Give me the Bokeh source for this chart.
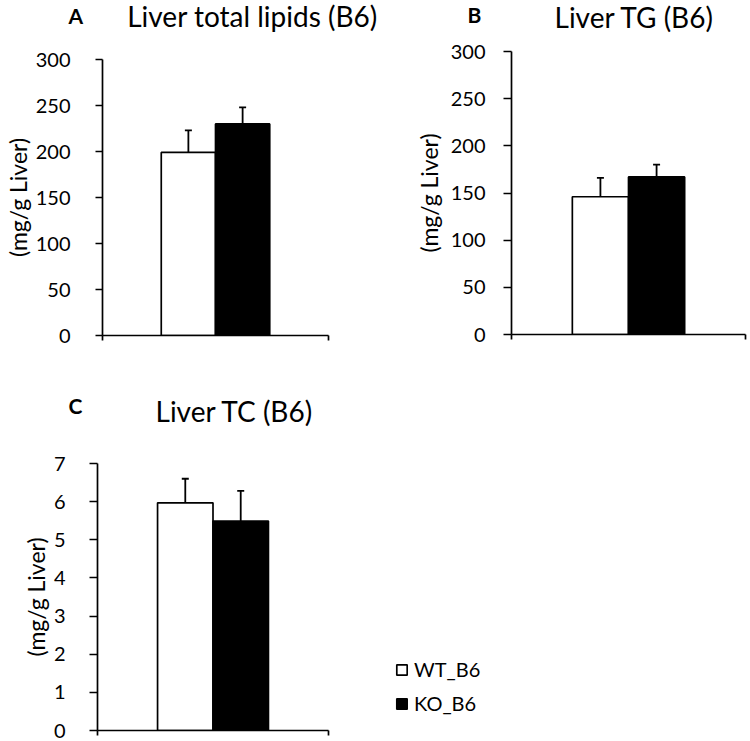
from bokeh.plotting import figure
from bokeh.models import (ColumnDataSource, Range1d, FixedTicker, Whisker, Label,
                          Legend, LegendItem, TeeHead)
from bokeh.layouts import column, row
from bokeh.embed import file_html
from bokeh.resources import INLINE

# ---------------- data ----------------
groups = ["WT_B6", "KO_B6"]
bar_fill = ["white", "black"]

lipids_mean = [199, 230]
lipids_err = [24, 18]

tg_mean = [146, 167]
tg_err = [20, 13]

tc_mean = [5.97, 5.49]
tc_err = [0.63, 0.79]

lipids_ticks = [0, 50, 100, 150, 200, 250, 300]
tg_ticks = [0, 50, 100, 150, 200, 250, 300]
tc_ticks = [0, 1, 2, 3, 4, 5, 6, 7]

y_label = "(mg/g Liver)"
FONT = "Lato"
BAR_W = 0.24


def make_header(W, H, letter, title, letter_xy, title_xy):
    h = figure(width=W, height=H, output_backend="svg", toolbar_location=None,
               x_range=Range1d(0, W), y_range=Range1d(H, 0),
               x_axis_location=None, y_axis_location=None,
               min_border=0, min_border_left=0, min_border_right=0,
               min_border_top=0, min_border_bottom=0)
    h.outline_line_color = None
    h.xgrid.visible = False
    h.ygrid.visible = False
    h.add_layout(Label(x=letter_xy[0], y=letter_xy[1], text=letter, text_font=FONT,
                       text_font_size="21px", text_font_style="bold", text_color="black",
                       text_baseline="alphabetic", text_align="left"))
    h.add_layout(Label(x=title_xy[0], y=title_xy[1], text=title, text_font=FONT,
                       text_font_size="28px", text_color="black",
                       text_baseline="alphabetic", text_align="left"))
    return h


def make_panel(means, errs, ticks, geo):
    W, H = geo["size"]
    fl, ft, fw, fh = geo["frame"]
    unit_w = geo["unit_w"]          # pixel width of the [0, 1] category span
    ymax = ticks[-1]
    p = figure(width=W, height=H, output_backend="svg", toolbar_location=None,
               x_range=Range1d(0, fw / unit_w), y_range=Range1d(0, ymax),
               min_border_left=fl, min_border_top=ft,
               min_border_right=W - fl - fw, min_border_bottom=H - ft - fh)
    p.outline_line_color = None
    p.xgrid.visible = False
    p.ygrid.visible = False

    xs = [0.5 - BAR_W / 2, 0.5 + BAR_W / 2]
    src = ColumnDataSource(dict(
        x=xs, top=means, fill=bar_fill, name=groups,
        upper=[m + e for m, e in zip(means, errs)],
        lower=[m - e for m, e in zip(means, errs)],
    ))
    r = p.vbar(x="x", top="top", bottom=0, width=BAR_W, source=src,
               fill_color="fill", line_color="black", line_width=1.7)
    wh = Whisker(base="x", upper="upper", lower="lower", source=src,
                 line_color="black", line_width=1.8,
                 upper_head=TeeHead(size=7, line_color="black", line_width=1.8),
                 lower_head=TeeHead(size=7, line_color="black", line_width=1.8))
    p.add_layout(wh)

    ya = p.yaxis[0]
    ya.ticker = FixedTicker(ticks=ticks)
    ya.major_label_text_font = FONT
    ya.major_label_text_font_size = "20px"
    ya.major_label_text_color = "black"
    ya.major_tick_in = 0
    ya.major_tick_out = geo["tick_out"]
    ya.major_label_standoff = geo["label_standoff"]
    ya.minor_tick_line_color = None
    ya.axis_line_width = 1.7
    ya.major_tick_line_width = 1.7
    ya.axis_label = y_label
    ya.axis_label_text_font = FONT
    ya.axis_label_text_font_size = "23px"
    ya.axis_label_text_font_style = "normal"
    ya.axis_label_text_color = "black"
    ya.axis_label_standoff = geo["axis_label_standoff"]

    xa = p.xaxis[0]
    xa.bounds = (0, 1)
    xa.ticker = FixedTicker(ticks=[], minor_ticks=[0, 1])
    xa.major_tick_line_color = None
    xa.minor_tick_in = 0
    xa.minor_tick_out = 5
    xa.minor_tick_line_width = 1.7
    xa.axis_line_width = 1.7
    return p, r


# geometry: size (w, h), frame (left, top, width, height), in pixels
geoA = dict(size=(388, 325), frame=(100, 14, 228, 276), unit_w=228, tick_out=7,
            label_standoff=25, axis_label_standoff=1)
geoB = dict(size=(360, 332), frame=(123, 13, 234, 283), unit_w=234, tick_out=8,
            label_standoff=18, axis_label_standoff=5)
geoC = dict(size=(748, 305), frame=(97, 28, 651, 267), unit_w=231, tick_out=8,
            label_standoff=24, axis_label_standoff=1)

hA = make_header(388, 45, "A", "Liver total lipids (B6)", (68, 14.7), (126.7, 15.7))
hB = make_header(360, 38, "B", "Liver TG (B6)", (79, 14), (166, 16.5))
hC = make_header(748, 65, "C", "Liver TC (B6)", (68, 35), (155, 40.7))

pA, _ = make_panel(lipids_mean, lipids_err, lipids_ticks, geoA)
pB, _ = make_panel(tg_mean, tg_err, tg_ticks, geoB)
pC, rC = make_panel(tc_mean, tc_err, tc_ticks, geoC)

legend = Legend(items=[LegendItem(label=groups[0], renderers=[rC], index=0),
                       LegendItem(label=groups[1], renderers=[rC], index=1)],
                location=(298, 15), padding=0, margin=0, spacing=10,
                glyph_width=13, glyph_height=13, label_standoff=6,
                label_text_font=FONT, label_text_font_size="20px",
                label_text_color="black",
                border_line_color=None, background_fill_alpha=0)
pC.add_layout(legend, "center")

layout = column(row(column(row(hA), pA), column(row(hB), pB)),
                column(row(hC), pC))
open("out.html", "w").write(file_html(layout, INLINE))
